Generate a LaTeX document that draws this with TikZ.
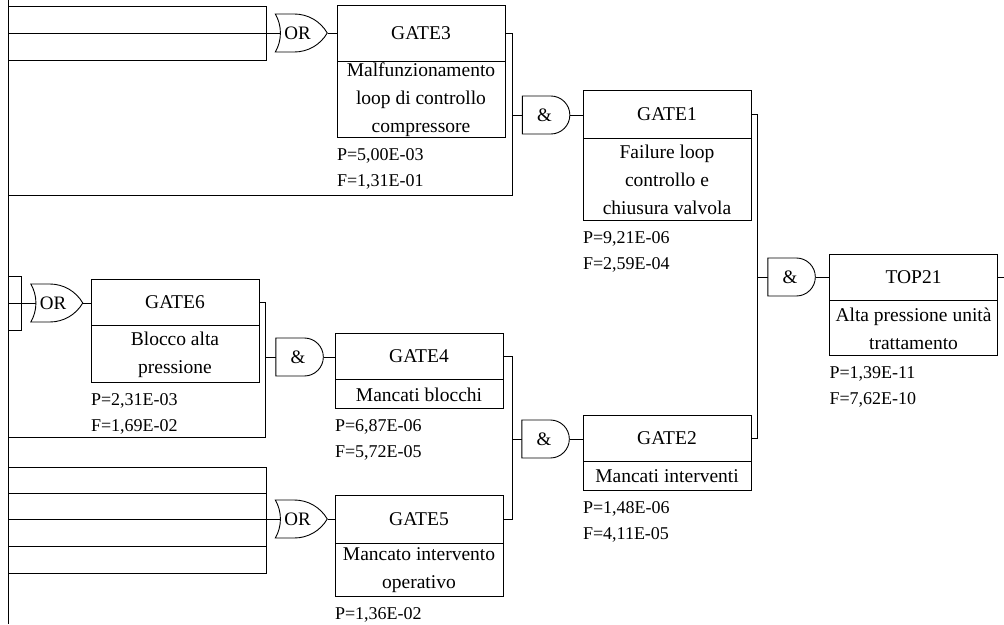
\documentclass[tikz,border=0pt]{standalone}
\usepackage{fontspec}
\setmainfont{Liberation Serif}
\usetikzlibrary{positioning,backgrounds,shapes.gates.logic.US}

\tikzset{
  gatehead/.style={draw, rectangle, minimum width=168pt, inner sep=0pt},
  gatedesc/.style={draw, rectangle, minimum width=168pt, inner sep=0pt, align=center,
    font=\fontsize{19.5}{28}\selectfont},
  gateprob/.style={inner sep=0pt, align=left, font=\fontsize{18}{26}\selectfont},
  orgate/.style={draw, fill=white, or gate US, logic gate inputs=nn, minimum width=42pt,
    minimum height=38pt, inner sep=0pt, font=\fontsize{19}{19}\selectfont},
  andgate/.style={draw, fill=white, and gate US, logic gate inputs=nn, minimum width=46pt,
    minimum height=38pt, inner sep=0pt, font=\fontsize{19}{19}\selectfont}
}

\begin{document}
\begin{tikzpicture}[x=1pt, y=-1pt, line width=0.9pt,
    every node/.style={font=\fontsize{19.5}{26}\selectfont}]
  \useasboundingbox (0,0) rectangle (1004,624);

  % event boxes
  \node (g3head) [gatehead, minimum height=56pt] at (421,33) {GATE3};
  \node (g3desc) [gatedesc, minimum height=76pt, below=0pt of g3head]
    {Malfunzionamento\\loop di controllo\\compressore};
  \node (g3prob) [gateprob, below right=10pt and 0pt of g3desc.south west]
    {P=5,00E-03\\F=1,31E-01};

  \node (g1head) [gatehead, minimum height=48pt] at (667,114) {GATE1};
  \node (g1desc) [gatedesc, minimum height=82pt, below=0pt of g1head]
    {Failure loop\\controllo e\\chiusura valvola};
  \node (g1prob) [gateprob, below right=10pt and 0pt of g1desc.south west]
    {P=9,21E-06\\F=2,59E-04};

  \node (t21head) [gatehead, minimum height=46pt] at (913.5,277) {TOP21};
  \node (t21desc) [gatedesc, minimum height=55pt, below=0pt of t21head]
    {Alta pressione unità\\trattamento};
  \node (t21prob) [gateprob, below right=10pt and 0pt of t21desc.south west]
    {P=1,39E-11\\F=7,62E-10};

  \node (g6head) [gatehead, minimum height=46pt] at (175,302) {GATE6};
  \node (g6desc) [gatedesc, minimum height=57pt, below=0pt of g6head]
    {Blocco alta\\pressione};
  \node (g6prob) [gateprob, below right=10pt and 0pt of g6desc.south west]
    {P=2,31E-03\\F=1,69E-02};

  \node (g4head) [gatehead, minimum height=46pt] at (419,356) {GATE4};
  \node (g4desc) [gatedesc, minimum height=29pt, below=0pt of g4head]
    {Mancati blocchi};
  \node (g4prob) [gateprob, below right=10pt and 0pt of g4desc.south west]
    {P=6,87E-06\\F=5,72E-05};

  \node (g2head) [gatehead, minimum height=46pt] at (667,438) {GATE2};
  \node (g2desc) [gatedesc, minimum height=29pt, below=0pt of g2head]
    {Mancati interventi};
  \node (g2prob) [gateprob, below right=10pt and 0pt of g2desc.south west]
    {P=1,48E-06\\F=4,11E-05};

  \node (g5head) [gatehead, minimum height=48pt] at (419,519) {GATE5};
  \node (g5desc) [gatedesc, minimum height=53pt, below=0pt of g5head]
    {Mancato intervento\\operativo};
  \node (g5prob) [gateprob, below right=10pt and 0pt of g5desc.south west]
    {P=1,36E-02};

  % gates
  \node (or3) [orgate] at (297.5,33) {OR};
  \node (and1) [andgate] at (544.5,115) {\&};
  \node (and0) [andgate] at (790,277) {\&};
  \node (or6) [orgate] at (53,303) {OR};
  \node (and4) [andgate] at (298,357) {\&};
  \node (and2) [andgate] at (544,439) {\&};
  \node (or5) [orgate] at (297.5,519) {OR};

  \draw (or3.output) -- (or3.output -| g3head.west);
  \draw (and1.output) -- (and1.output -| g1head.west);
  \draw (and0.output) -- (and0.output -| t21head.west);
  \draw (or6.output) -- (or6.output -| g6head.west);
  \draw (and4.output) -- (and4.output -| g4head.west);
  \draw (and2.output) -- (and2.output -| g2head.west);
  \draw (or5.output) -- (or5.output -| g5head.west);

  % left margin
  \coordinate (lt) at (8,0);
  \coordinate (lb) at (8,624);
  \draw (lt) -- (lb);

  % bus lines
  \coordinate (b3t) at (266,6);
  \coordinate (b3b) at (266,60);
  \coordinate (b1) at (512,195);
  \coordinate (b0) at (757,0);
  \coordinate (out) at (1004,0);
  \coordinate (b6t) at (21,276);
  \coordinate (b6b) at (21,330);
  \coordinate (b4) at (265,437);
  \coordinate (b2) at (512,0);
  \coordinate (b5t) at (266,467);
  \coordinate (b5b) at (266,573);

  \begin{scope}[on background layer]
    % inputs of GATE3
    \draw (b3t -| lt) -- (b3t) -- (b3b) -- (b3b -| lt);
    \draw (or3.center -| lt) -- (or3.center);
    % GATE3 and side input to GATE1
    \draw (g3head.east) -| (b1) -- (b1 -| lt);
    \draw (and1.center) -- (and1.center -| b1);
    % GATE1, GATE2 to TOP21
    \draw (g1head.east) -| (b0 |- g2head.east) -- (g2head.east);
    \draw (and0.center) -- (and0.center -| b0);
    \draw (t21head.east) -- (t21head.east -| out);
    % inputs of GATE6
    \draw (b6t -| lt) -- (b6t) -- (b6b) -- (b6b -| lt);
    \draw (or6.center -| lt) -- (or6.center);
    % GATE6 and side input to GATE4
    \draw (g6head.east) -| (b4) -- (b4 -| lt);
    \draw (and4.center) -- (and4.center -| b4);
    % GATE4, GATE5 to GATE2
    \draw (g4head.east) -| (b2 |- g5head.east) -- (g5head.east);
    \draw (and2.center) -- (and2.center -| b2);
    % inputs of GATE5
    \draw (b5t -| lt) -- (b5t) -- (b5b) -- (b5b -| lt);
    \foreach \y in {493,546} \draw (8,\y) -- (266,\y);
    \draw (or5.center -| lt) -- (or5.center);
  \end{scope}
\end{tikzpicture}
\end{document}
